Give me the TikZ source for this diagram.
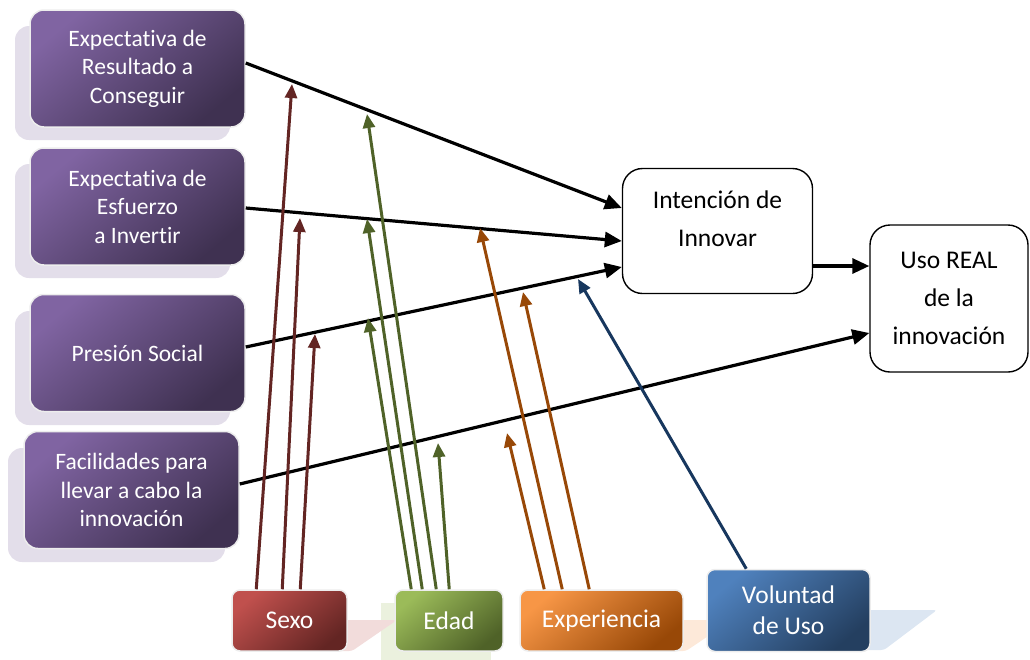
\documentclass[tikz,border=0pt]{standalone}
\usepackage{fontspec}
\setmainfont[Ligatures=NoCommon]{Carlito}
\usetikzlibrary{arrows.meta,calc}
\definecolor{purL}{HTML}{8064A2}
\definecolor{purD}{HTML}{3F3151}
\definecolor{purS}{HTML}{E3DEEA}
\definecolor{redL}{HTML}{C0504D}
\definecolor{redD}{HTML}{632523}
\definecolor{redS}{HTML}{F2DCDB}
\definecolor{grnL}{HTML}{9BBB59}
\definecolor{grnD}{HTML}{4F6228}
\definecolor{grnS}{HTML}{EBF1DE}
\definecolor{orgL}{HTML}{F79646}
\definecolor{orgD}{HTML}{984807}
\definecolor{orgS}{HTML}{FDE9D9}
\definecolor{bluL}{HTML}{4F81BD}
\definecolor{bluD}{HTML}{243F60}
\definecolor{bluS}{HTML}{DCE6F2}
\definecolor{navy}{HTML}{17375E}
\begin{document}
\begin{tikzpicture}[x=1pt,y=-1pt,
  pbox/.style={rounded corners=14pt, top color=purL, bottom color=purD, shading angle=40,
    draw=black!7, line width=1.5pt, text=white, align=center,
    minimum width=215pt, minimum height=117pt, inner sep=0pt,
    font=\fontsize{23.5}{28.5}\selectfont},
  pshadow/.style={rounded corners=14pt, fill=purS},
  fbox/.style={rounded corners=8pt, draw=black!7, line width=1.5pt, text=white, align=center,
    inner sep=0pt, font=\fontsize{25.5}{31}\selectfont},
  wbox/.style={rounded corners=20pt, draw=black, line width=1.4pt, fill=white, inner sep=0pt},
  wtext/.style={align=center, font=\fontsize{25.5}{38}\selectfont, inner sep=0pt},
  blk/.style={line width=3.2pt, -{Triangle[length=17pt,width=15pt]}},
  col/.style={line width=3pt, -{Triangle[length=14pt,width=12pt]}},
]
\useasboundingbox (0,0) rectangle (1030,659);

% purple shadows
\fill[pshadow] (15,26) rectangle (230,140);
\fill[pshadow] (15,164) rectangle (230,278);
\fill[pshadow] (15,311) rectangle (230,425);
\fill[pshadow] (8,448) rectangle (225,562);

% bottom shadows
\fill[grnS] (381,603) rectangle (491,665);
\fill[redS, rounded corners=3pt] (300,620) -- (397,620) -- (352,651) -- (300,651) -- cycle;
\fill[orgS, rounded corners=3pt] (640,620) -- (732,620) -- (686,651) -- (640,651) -- cycle;
\fill[bluS, rounded corners=3pt] (820,610) -- (937,610) -- (884,650) -- (820,650) -- cycle;

% purple boxes
\node[pbox] (p1) at (137.5,68.5) {\raisebox{-2pt}{}Expectativa de\\Resultado a\\Conseguir};
\node[pbox] (p2) at (137.5,206.5) {Expectativa de\\Esfuerzo\\a Invertir};
\node[pbox] (p3) at (137.5,353) {Presión Social};
\node[pbox] (p4) at (131.5,490) {Facilidades para\\llevar a cabo la\\innovación};

% white boxes
\node[wbox, minimum width=190pt, minimum height=125pt] (int) at (717.5,231) {};
\node[wtext] (intT) at ([yshift=12pt]int.center) {Intención de\\Innovar};
\node[wbox, minimum width=158pt, minimum height=147pt, wtext, draw=black, line width=1.4pt, rounded corners=20pt] (uso) at (949,298.5) {Uso REAL\\de la\\innovación};

% bottom boxes
\node[fbox, top color=redL, bottom color=redD, shading angle=40, minimum width=115pt, minimum height=61pt] (sexo) at (289.5,620.5) {Sexo};
\node[fbox, top color=grnL, bottom color=grnD, shading angle=40, minimum width=108pt, minimum height=61pt] (edad) at (449,620.5) {Edad};
\node[fbox, top color=orgL, bottom color=orgD, shading angle=40, minimum width=163pt, minimum height=61pt] (exp) at (601.5,620.5) {Experiencia};
\node[fbox, top color=bluL, bottom color=bluD, shading angle=40, minimum width=163pt, minimum height=82pt] (vol) at (788.5,610.5) {Voluntad\\de Uso};

% black connectors
\draw[blk] ([yshift=5.5pt]p1.east) -- ([yshift=23pt]int.west);
\draw[blk] ([yshift=-1.5pt]p2.east) -- ([yshift=-10pt]int.west);
\draw[blk] ([yshift=6pt]p3.east) -- ([yshift=-36pt]int.west);
\draw[blk] ([yshift=6pt]p4.east) -- ([yshift=-34.5pt]uso.west);
\coordinate (iout) at ([yshift=-35pt]int.east);
\draw[blk] (iout) -- (iout -| uso.west);

% tips of moderator arrows
\coordinate (s1) at (292,84);
\coordinate (s2) at (300,218);
\coordinate (s3) at (315,334);
\coordinate (e1) at (367,114);
\coordinate (e2) at (367,219);
\coordinate (e3) at (368,318);
\coordinate (e4) at (438,443);
\coordinate (x1) at (480,228);
\coordinate (x2) at (523,292);
\coordinate (x3) at (507,433);
\coordinate (v1) at (578,279);

\draw[col, redD] ([xshift=25pt]sexo.north west) -- (s1);
\draw[col, redD] ([xshift=51pt]sexo.north west) -- (s2);
\draw[col, redD] ([xshift=69pt]sexo.north west) -- (s3);
\draw[col, grnD] ([xshift=42pt]edad.north west) -- (e1);
\draw[col, grnD] ([xshift=28pt]edad.north west) -- (e2);
\draw[col, grnD] ([xshift=17pt]edad.north west) -- (e3);
\draw[col, grnD] ([xshift=55pt]edad.north west) -- (e4);
\draw[col, orgD] ([xshift=43pt]exp.north west) -- (x1);
\draw[col, orgD] ([xshift=70pt]exp.north west) -- (x2);
\draw[col, orgD] ([xshift=25pt]exp.north west) -- (x3);
\draw[col, navy] ([xshift=40pt]vol.north west) -- (v1);
\end{tikzpicture}
\end{document}
